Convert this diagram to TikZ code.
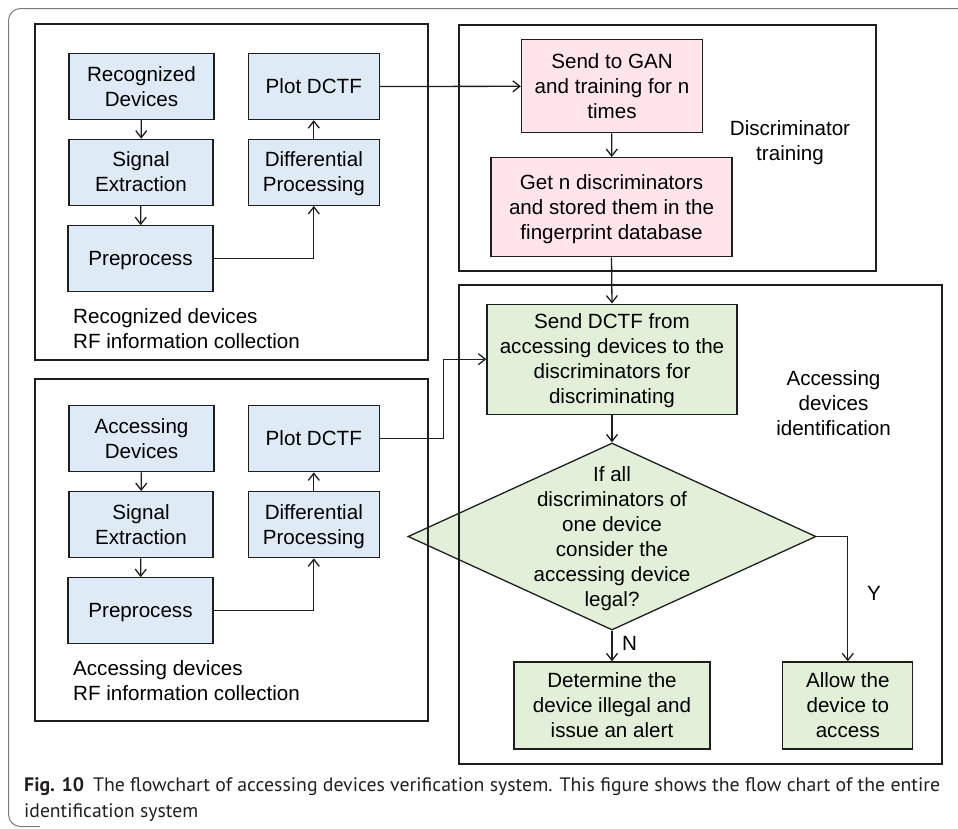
\documentclass[tikz,border=0pt]{standalone}
\usepackage{fontspec}
\usepackage{graphicx}
\setmainfont{Liberation Sans}
\newfontfamily\capfont{PT Sans}
\usetikzlibrary{arrows.meta,shapes.geometric}
\definecolor{procblue}{RGB}{222,235,247}
\definecolor{trainpink}{RGB}{255,228,236}
\definecolor{idgreen}{RGB}{226,240,217}
\definecolor{edgegray}{RGB}{30,30,30}
\definecolor{framegray}{RGB}{125,125,125}
\definecolor{captext}{RGB}{35,31,32}
% strut giving every text block the ascent and descent of its face
\newcommand{\ls}{\rule[-4.4pt]{0pt}{23pt}}

\begin{document}
\begin{tikzpicture}[x=1pt,y=-1pt,
  every node/.style={font=\fontsize{20.6}{25}\selectfont, text=black},
  stepbox/.style={draw=edgegray, line width=1.3pt, inner sep=0pt, align=center},
  bluebox/.style={stepbox, fill=procblue},
  pinkbox/.style={stepbox, fill=trainpink},
  greenbox/.style={stepbox, fill=idgreen},
  decision/.style={diamond, draw=edgegray, fill=idgreen, line width=1.3pt,
    inner sep=0pt, minimum width=408pt, minimum height=187pt},
  group/.style={draw=edgegray, line width=1.3pt, inner sep=0pt},
  grouplabel/.style={inner sep=0pt, align=center},
  flow/.style={draw=edgegray, line width=1.3pt, -{Straight Barb[length=7pt,width=11pt]}},
  captionline/.style={inner sep=0pt, anchor=base west, text=captext,
    font=\capfont\fontsize{19.5}{23}\selectfont}
]
\useasboundingbox (0,0) rectangle (958,828);

% outer panel frame
\draw[framegray, line width=1pt, rounded corners=12pt]
  (970,8.5) -- (8.5,8.5) -- (8.5,826.5) -- (40,826.5);

% ---------- recognised devices: RF information collection ----------
\node[bluebox, minimum width=145pt, minimum height=66pt] (rdev)  at (141.5,86.5)  {\ls Recognized\\Devices\ls};
\node[bluebox, minimum width=144pt, minimum height=66pt] (rsig)  at (141,172.3)   {\ls Signal\\Extraction\ls};
\node[bluebox, minimum width=145pt, minimum height=66pt] (rpre)  at (140.5,258.8) {\ls Preprocess\ls};
\node[bluebox, minimum width=131pt, minimum height=66pt] (rplot) at (313.8,86.5)  {\ls Plot DCTF\ls};
\node[bluebox, minimum width=131pt, minimum height=66pt] (rdiff) at (313.8,172.3) {\ls Differential\\Processing\ls};
\node[grouplabel, anchor=west, align=left] (rlab) at (73,328.5) {\ls Recognized devices\\RF information collection\ls};

% ---------- accessing devices: RF information collection ----------
\node[bluebox, minimum width=145pt, minimum height=66pt] (adev)  at (141.5,438.7) {\ls Accessing\\Devices\ls};
\node[bluebox, minimum width=144pt, minimum height=66pt] (asig)  at (141,524.7)   {\ls Signal\\Extraction\ls};
\node[bluebox, minimum width=145pt, minimum height=66pt] (apre)  at (140.5,610.8) {\ls Preprocess\ls};
\node[bluebox, minimum width=131pt, minimum height=66pt] (aplot) at (313.8,438.7) {\ls Plot DCTF\ls};
\node[bluebox, minimum width=131pt, minimum height=66pt] (adiff) at (313.8,524.7) {\ls Differential\\Processing\ls};
\node[grouplabel, anchor=west, align=left] (alab) at (73,680.5) {\ls Accessing devices\\RF information collection\ls};

% ---------- discriminator training ----------
\node[pinkbox, minimum width=181pt, minimum height=93pt] (gan)  at (612,86.3)  {\ls Send to GAN\\and training for n\\times\ls};
\node[pinkbox, minimum width=241pt, minimum height=99pt] (disc) at (611.5,207.2) {\ls Get n discriminators\\and stored them in the\\fingerprint database\ls};
\node[grouplabel] (tlab) at (790,141) {\ls Discriminator\\training\ls};

% ---------- accessing devices identification ----------
\node[greenbox, minimum width=250pt, minimum height=110pt] (send) at (612,359.2) {\ls Send DCTF from\\accessing devices to the\\discriminators for\\discriminating\ls};
\node[decision] (dec) at (612,536.5) {};
\node[grouplabel] (dectext) at (dec.center) {\ls If all\\discriminators of\\one device\\consider the\\accessing device\\legal?\ls};
\node[greenbox, minimum width=196pt, minimum height=87pt] (ill)   at (612,705.5)   {\ls Determine the\\device illegal and\\issue an alert\ls};
\node[greenbox, minimum width=130pt, minimum height=87pt] (allow) at (847.8,705.5) {\ls Allow the\\device to\\access\ls};
\node[grouplabel] (ilab) at (833.5,403) {\ls Accessing\\devices\\identification\ls};

% ---------- group frames ----------
\node[group, minimum width=393pt, minimum height=336pt] (grec) at (231.5,192)   {};
\node[group, minimum width=393pt, minimum height=342pt] (gacc) at (231.5,550)   {};
\node[group, minimum width=417pt, minimum height=246pt] (gtrn) at (667.5,148)   {};
\node[group, minimum width=483pt, minimum height=479pt] (gid)  at (700.5,524.5) {};

% ---------- connectors ----------
\draw[flow] (rdev) -- (rsig);
\draw[flow] (rsig) -- (rpre);
\draw[flow] (rpre.east) -| (rdiff.south);
\draw[flow] (rdiff) -- (rplot);
\draw[flow] (rplot.east) -- (gan.west);

\draw[flow] (adev) -- (asig);
\draw[flow] (asig) -- (apre);
\draw[flow] (apre.east) -| (adiff.south);
\draw[flow] (adiff) -- (aplot);
\coordinate (abend) at (443.4,438.7);
\draw[flow] (aplot.east) -- (abend) |- (send.west);

\draw[flow] (gan) -- (disc);
\draw[flow] (disc.south) -- (send.north);
\draw[flow] (send) -- (dec.north);
\draw[flow] (dec.south) -- (ill.north);
\draw[flow] (dec.east) -| (allow.north);
\node[grouplabel] (nlab) at (629.5,643) {\ls N\ls};
\node[grouplabel] (ylab) at (874,593) {\ls Y\ls};

% ---------- caption ----------
\node[captionline] (cap1) at (24,791)
  {\resizebox{916pt}{\height}{\textbf{Fig. 10}\hspace{0.45em}The flowchart of accessing devices verification system. This figure shows the flow chart of the entire}};
\node[captionline] (cap2) at (24,817)
  {\resizebox{174pt}{\height}{identification system}};
\end{tikzpicture}
\end{document}
